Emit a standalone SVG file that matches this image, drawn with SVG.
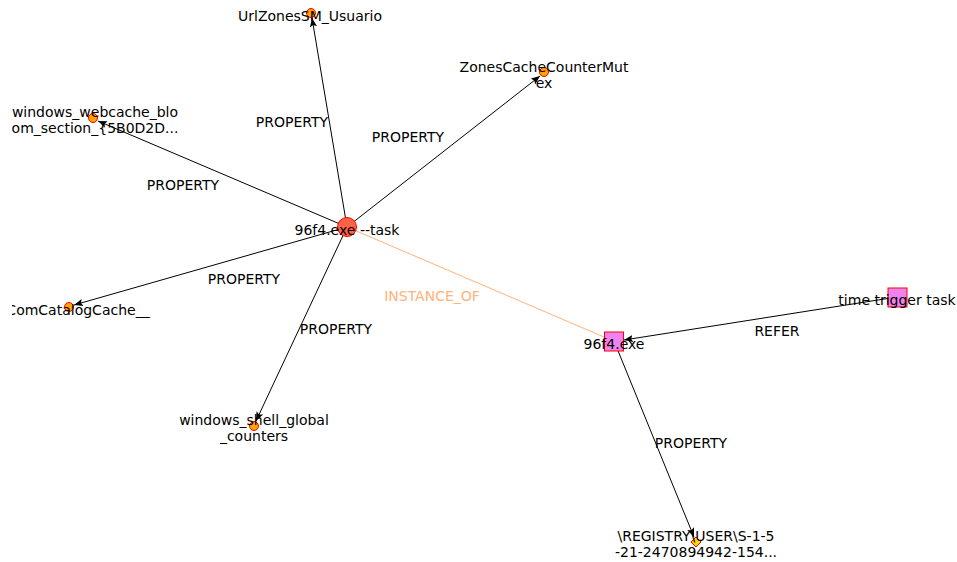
<svg xmlns="http://www.w3.org/2000/svg" width="957" height="562" viewBox="0 0 957 562">
  <style>
    .edge { stroke: #000; stroke-width: 1; fill: none; }
    .inst { stroke: #ffb27a; stroke-width: 1; fill: none; }
    .lbl { font-family: "DejaVu Sans", sans-serif; font-size: 14px; fill: #000; text-anchor: middle; }
    .elbl { font-family: "DejaVu Sans", sans-serif; font-size: 14px; fill: #000; text-anchor: middle; }
    .ilbl { font-family: "DejaVu Sans", sans-serif; font-size: 14px; fill: #ffb27a; text-anchor: middle; }
    .prop { fill: #ffa500; stroke: #ff0000; stroke-width: 1; }
    .main { fill: #ff6347; stroke: #ff0000; stroke-width: 1; }
    .exe { fill: #ee82ee; stroke: #ff0000; stroke-width: 1; }
    .reg { fill: #ffd700; stroke: #ff0000; stroke-width: 1; }
  </style>
  <defs>
    <marker id="arrow" viewBox="0 0 10 10" refX="10" refY="5" markerWidth="9" markerHeight="9" markerUnits="userSpaceOnUse" orient="auto">
      <path d="M0,1 L10,5 L0,9 L2,5 Z" fill="#000"/>
    </marker>
    <!-- plot area: labels running past its left edge are cut off -->
    <clipPath id="plot">
      <rect x="12" y="0" width="945" height="562"/>
    </clipPath>
  </defs>

  <!-- connectors -->
  <g id="edges">
    <line class="inst" x1="347" y1="227" x2="604" y2="337"/>
    <line class="edge" x1="347" y1="227" x2="312" y2="18" marker-end="url(#arrow)"/>
    <line class="edge" x1="347" y1="227" x2="540" y2="76" marker-end="url(#arrow)"/>
    <line class="edge" x1="347" y1="227" x2="98" y2="121" marker-end="url(#arrow)"/>
    <line class="edge" x1="347" y1="227" x2="74" y2="305" marker-end="url(#arrow)"/>
    <line class="edge" x1="347" y1="227" x2="256" y2="421" marker-end="url(#arrow)"/>
    <line class="edge" x1="897" y1="297" x2="624" y2="340" marker-end="url(#arrow)"/>
    <line class="edge" x1="614" y1="341" x2="694" y2="537" marker-end="url(#arrow)"/>
  </g>

  <!-- nodes -->
  <g id="node-task">
    <circle class="main" cx="347" cy="227" r="9.5"/>
    <text class="lbl" x="347" y="235">96f4.exe --task</text>
  </g>
  <g id="node-urlzones">
    <circle class="prop" cx="311" cy="13" r="4.5"/>
    <text class="lbl" x="310" y="21">UrlZonesSM_Usuario</text>
  </g>
  <g id="node-zonescache">
    <circle class="prop" cx="544" cy="72" r="4.5"/>
    <text class="lbl" x="544" y="72">ZonesCacheCounterMut</text>
    <text class="lbl" x="544" y="88">ex</text>
  </g>
  <g id="node-webcache" clip-path="url(#plot)">
    <circle class="prop" cx="93" cy="118" r="4.5"/>
    <text class="lbl" x="95" y="117">windows_webcache_blo</text>
    <text class="lbl" x="95" y="133">om_section_{5B0D2D...</text>
  </g>
  <g id="node-comcatalog" clip-path="url(#plot)">
    <circle class="prop" cx="69" cy="307" r="4.5"/>
    <text class="lbl" x="78" y="315">ComCatalogCache__</text>
  </g>
  <g id="node-shell">
    <circle class="prop" cx="254" cy="426" r="4.5"/>
    <text class="lbl" x="254" y="425">windows_shell_global</text>
    <text class="lbl" x="254" y="441">_counters</text>
  </g>
  <g id="node-exe">
    <rect class="exe" x="604.5" y="332" width="19" height="19"/>
    <text class="lbl" x="614" y="349">96f4.exe</text>
  </g>
  <g id="node-trigger">
    <rect class="exe" x="888" y="288" width="19" height="19"/>
    <text class="lbl" x="897" y="305">time trigger task</text>
  </g>
  <g id="node-registry">
    <polygon class="reg" points="696,537 701,542 696,547 691,542"/>
    <text class="lbl" x="696" y="541">\REGISTRY\USER\S-1-5</text>
    <text class="lbl" x="696" y="557">-21-2470894942-154...</text>
  </g>

  <!-- connector labels -->
  <g id="edge-labels">
    <text class="elbl" x="292" y="127">PROPERTY</text>
    <text class="elbl" x="408" y="142">PROPERTY</text>
    <text class="elbl" x="183" y="190">PROPERTY</text>
    <text class="elbl" x="244" y="284">PROPERTY</text>
    <text class="elbl" x="336" y="334">PROPERTY</text>
    <text class="ilbl" x="432" y="301">INSTANCE_OF</text>
    <text class="elbl" x="777" y="336">REFER</text>
    <text class="elbl" x="691" y="448">PROPERTY</text>
  </g>
</svg>
